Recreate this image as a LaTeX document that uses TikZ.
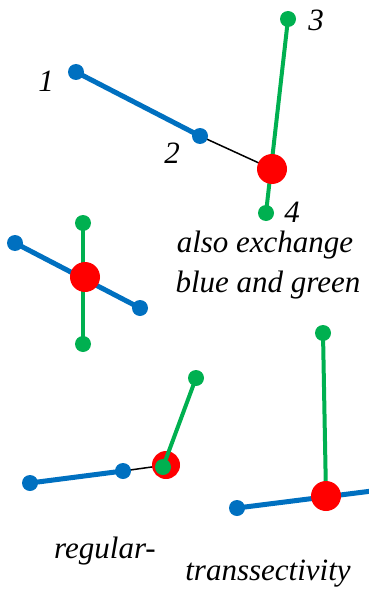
\documentclass[tikz,border=0pt]{standalone}
\usepackage{fontspec}
\setmainfont{Liberation Serif}
\definecolor{bluseg}{HTML}{0070C0}
\definecolor{grnseg}{HTML}{00B050}
\definecolor{redpt}{HTML}{FF0000}
\tikzset{
  bluline/.style={bluseg, line width=5pt},
  grnline/.style={grnseg, line width=4pt},
  blkline/.style={black, line width=1.5pt},
  lbl/.style={font=\fontsize{31}{35}\selectfont\itshape, inner sep=0pt}
}
\begin{document}
\begin{tikzpicture}[x=1pt,y=-1pt]
    \useasboundingbox (0,0) rectangle (368,591);
    % punti del pannello in alto
    \coordinate (a1) at (76,72);
    \coordinate (a2) at (200,136);
    \coordinate (a3) at (288,19);
    \coordinate (a4) at (266,213);
    \coordinate (ar) at (272,169);
    \draw[bluline] (a1) -- (a2);
    \draw[blkline] (a2) -- (ar);
    \draw[grnline] (a3) -- (a4);
    \foreach \p in {a1,a2} \fill[bluseg] (\p) circle (8);
    \foreach \p in {a3,a4} \fill[grnseg] (\p) circle (8);
    \fill[redpt] (ar) circle (15);
    \node[lbl] (n1) at (46,81) {1};
    \node[lbl] (n2) at (172,153) {2};
    \node[lbl] (n3) at (316,20) {3};
    \node[lbl] (n4) at (292,212) {4};
    % croce a sinistra
    \coordinate (b1) at (15,243);
    \coordinate (b2) at (140,308);
    \coordinate (b3) at (83,223);
    \coordinate (b4) at (83,344);
    \coordinate (br) at (85,277);
    \draw[bluline] (b1) -- (b2);
    \draw[grnline] (b3) -- (b4);
    \foreach \p in {b1,b2} \fill[bluseg] (\p) circle (8);
    \foreach \p in {b3,b4} \fill[grnseg] (\p) circle (8);
    \fill[redpt] (br) circle (15);
    \node[lbl] (t1) at (265,245) {also exchange};
    \node[lbl] (t2) at (268,285) {blue and green};
    % regular
    \coordinate (c1) at (30,483);
    \coordinate (c2) at (123,471);
    \coordinate (cr) at (166,465);
    \coordinate (c3) at (196,378);
    \coordinate (c4) at (163,467);
    \draw[bluline] (c1) -- (c2);
    \draw[blkline] (c2) -- (cr);
    \fill[redpt] (cr) circle (14);
    \draw[grnline] (c3) -- (c4);
    \foreach \p in {c1,c2} \fill[bluseg] (\p) circle (8);
    \foreach \p in {c3,c4} \fill[grnseg] (\p) circle (8);
    \node[lbl] (t3) at (105,551) {regular-};
    % transsectivity
    \coordinate (d1) at (237,508);
    \coordinate (d2) at (372,491);
    \coordinate (d3) at (323,333);
    \coordinate (dr) at (326,496);
    \draw[bluline] (d1) -- (d2);
    \draw[grnline] (d3) -- (dr);
    \fill[bluseg] (d1) circle (8);
    \fill[grnseg] (d3) circle (8);
    \fill[redpt] (dr) circle (15);
    \node[lbl] (t4) at (268,574) {transsectivity};
\end{tikzpicture}
\end{document}
